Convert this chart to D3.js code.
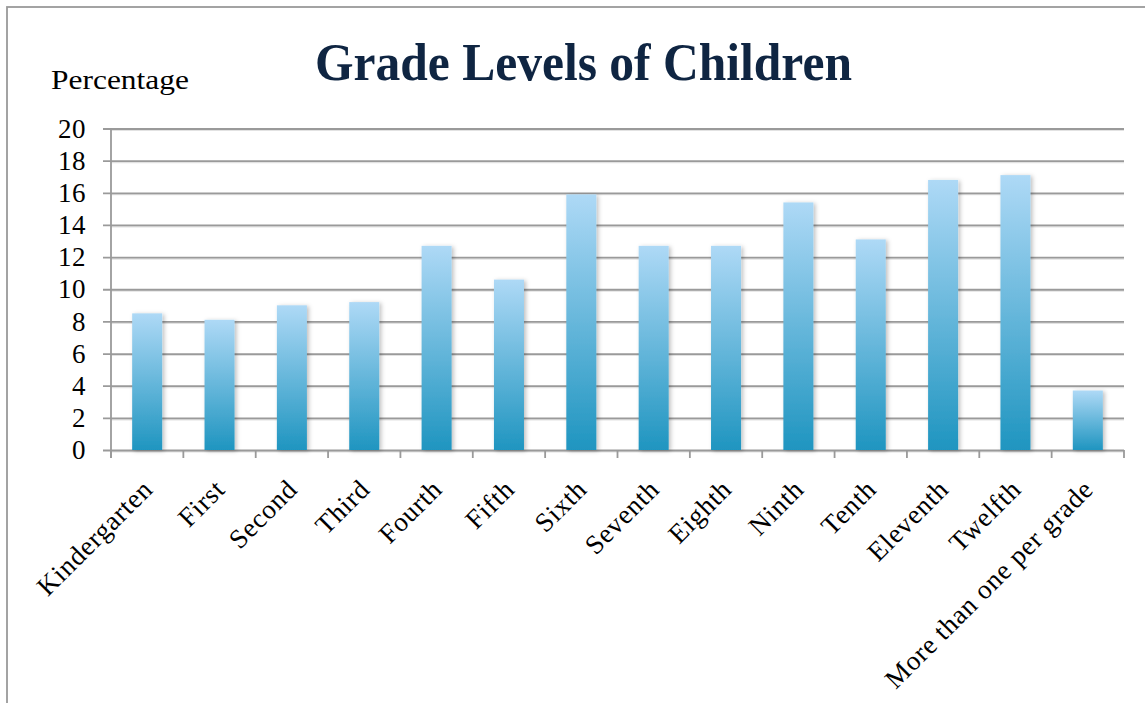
<!DOCTYPE html>
<html>
<head>
<meta charset="utf-8">
<script src="https://cdn.jsdelivr.net/npm/d3@7"></script>
<style>
  html, body { margin: 0; padding: 0; background: #fff; }
  svg { display: block; }
  text { font-family: "Liberation Serif", "DejaVu Serif", serif; }
</style>
</head>
<body>
<svg id="chart" width="1145" height="703"></svg>
<script>
// Share of children by grade level (percent)
const categories = ["Kindergarten", "First", "Second", "Third", "Fourth", "Fifth", "Sixth",
  "Seventh", "Eighth", "Ninth", "Tenth", "Eleventh", "Twelfth", "More than one per grade"];
const percentages = [8.5, 8.1, 9.0, 9.2, 12.7, 10.6, 15.9, 12.7, 12.7, 15.4, 13.1, 16.8, 17.1, 3.7];
const yTicks = [0, 2, 4, 6, 8, 10, 12, 14, 16, 18, 20];
const title = "Grade Levels of Children";
const yLabel = "Percentage";

const svg = d3.select("#chart");
const W = 1145, H = 703;
const plot = { left: 111, right: 1124, top: 128.5, bottom: 450 };
const gridColor = "#9a9a9a";

const defs = svg.append("defs");
const grad = defs.append("linearGradient")
  .attr("id", "barFill").attr("x1", 0).attr("y1", 0).attr("x2", 0).attr("y2", 1);
grad.append("stop").attr("offset", "0%").attr("stop-color", "#aed9f6");
grad.append("stop").attr("offset", "100%").attr("stop-color", "#1f95c0");

const shadow = defs.append("filter").attr("id", "barShadow")
  .attr("x", "-30%").attr("y", "-10%").attr("width", "160%").attr("height", "120%");
shadow.append("feDropShadow").attr("dx", 2).attr("dy", 1).attr("stdDeviation", 2)
  .attr("flood-color", "#000").attr("flood-opacity", 0.25);

// outer frame
svg.append("rect")
  .attr("x", 7).attr("y", 7).attr("width", W + 20).attr("height", H + 20)
  .attr("fill", "none").attr("stroke", gridColor).attr("stroke-width", 1.8);

const x = d3.scaleBand().domain(categories).range([plot.left, plot.right])
  .paddingInner(0.585).paddingOuter(0.2925);
const y = d3.scaleLinear().domain([0, 20]).range([plot.bottom, plot.top]);

// soft shadow under each gridline
svg.append("g").selectAll("line").data(yTicks).join("line")
  .attr("x1", plot.left).attr("x2", plot.right)
  .attr("y1", d => y(d) + 1.8).attr("y2", d => y(d) + 1.8)
  .attr("stroke", "#e2e2e2").attr("stroke-width", 1.5);

// horizontal gridlines with left tick stubs
const yAxis = d3.axisLeft(y).tickValues(yTicks)
  .tickSize(-(plot.right - plot.left)).tickSizeOuter(0).tickPadding(25);
const gy = svg.append("g").attr("transform", `translate(${plot.left},0)`).call(yAxis);
gy.select(".domain").remove();
gy.selectAll(".tick line")
  .attr("x1", -8)
  .attr("stroke", gridColor).attr("stroke-width", 1.8);
gy.selectAll(".tick text")
  .attr("font-size", 27).attr("fill", "#000")
  .attr("letter-spacing", 0.5)
  .attr("font-family", "Liberation Serif, serif");

// vertical axis line
svg.append("line")
  .attr("x1", plot.left).attr("x2", plot.left)
  .attr("y1", plot.top).attr("y2", plot.bottom + 8)
  .attr("stroke", gridColor).attr("stroke-width", 1.8);

// category boundary ticks below the baseline
const step = x.step();
const boundaries = d3.range(categories.length + 1).map(i => plot.left + i * step);
svg.append("g").selectAll("line").data(boundaries).join("line")
  .attr("x1", d => d).attr("x2", d => d)
  .attr("y1", plot.bottom).attr("y2", plot.bottom + 8)
  .attr("stroke", gridColor).attr("stroke-width", 1.8);

// bars
svg.append("g").selectAll("rect").data(percentages).join("rect")
  .attr("x", (d, i) => x(categories[i]))
  .attr("y", d => y(d))
  .attr("width", x.bandwidth())
  .attr("height", d => y(0) - y(d))
  .attr("fill", "url(#barFill)")
  .attr("filter", "url(#barShadow)");

// category labels, rotated
svg.append("g").selectAll("text").data(categories).join("text")
  .attr("transform", d => `translate(${x(d) + x.bandwidth() / 2 + 7},${plot.bottom + 41}) rotate(-45)`)
  .attr("text-anchor", "end")
  .attr("font-size", 27)
  .attr("letter-spacing", 0.7)
  .attr("fill", "#000")
  .text(d => d);

// axis title
svg.append("text")
  .attr("x", 51).attr("y", 89)
  .attr("font-size", 28).attr("fill", "#000")
  .attr("textLength", 138).attr("lengthAdjust", "spacingAndGlyphs")
  .text(yLabel);

// chart title
svg.append("text")
  .attr("x", 315).attr("y", 80)
  .attr("font-size", 53).attr("font-weight", "bold")
  .attr("fill", "#0f2542")
  .attr("textLength", 537).attr("lengthAdjust", "spacingAndGlyphs")
  .text(title);
</script>
</body>
</html>
